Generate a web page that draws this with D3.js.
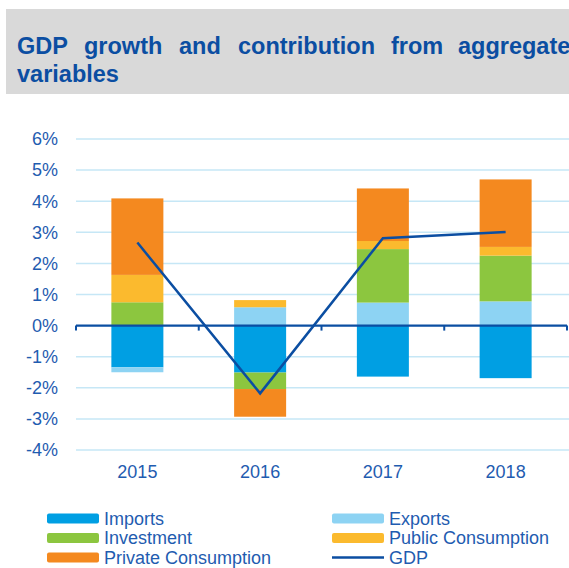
<!DOCTYPE html>
<html><head><meta charset="utf-8">
<script src="https://cdn.jsdelivr.net/npm/d3@7"></script>
<style>body{margin:0;background:#fff}svg{display:block;font-family:"Liberation Sans",Arial,sans-serif}</style>
</head><body>
<svg id="c" width="569" height="568"></svg>
<script>
const categories = ["2015","2016","2017","2018"];
const imports = [-1.34,-1.51,-1.64,-1.69];
const exports_ = [-0.16,0.59,0.74,0.78];
const investment = [0.75,-0.53,1.72,1.47];
const publicCons = [0.88,0.23,0.26,0.28];
const privateCons = [2.46,-0.89,1.69,2.17];
const gdp = [2.67,-2.18,2.81,3.01];
const yTicks = [-4,-3,-2,-1,0,1,2,3,4,5,6];
const titleWords = ["GDP","growth","and","contribution","from","aggregate"];
const titleLine2 = "variables";

const series = [
  {name:"Imports", values:imports, color:"#009FE3"},
  {name:"Exports", values:exports_, color:"#8DD3F3"},
  {name:"Investment", values:investment, color:"#8CC63F"},
  {name:"Public Consumption", values:publicCons, color:"#FBBA2E"},
  {name:"Private Consumption", values:privateCons, color:"#F4891F"}
];
const gdpColor = "#0B4EA2", textColor = "#1F5CB0";

const svg = d3.select("#c");
// title box
svg.append("rect").attr("x",6).attr("y",9).attr("width",563).attr("height",85).attr("fill","#D9D9D9");
const wordX = [17,84,179,238,391,458];
titleWords.forEach((w,i)=>svg.append("text").attr("x",wordX[i]).attr("y",54)
  .attr("font-size",23.5).attr("font-weight","bold").attr("fill",gdpColor).text(w));
svg.append("text").attr("x",17).attr("y",82).attr("font-size",23.5).attr("font-weight","bold")
  .attr("fill",gdpColor).text(titleLine2);

const x0 = 76, x1 = 567;
const x = d3.scaleBand().domain(categories).range([x0,x1]).paddingInner(0).paddingOuter(0);
const y = d3.scaleLinear().domain([-4,6]).range([450,139]);
const barW = 52;

// gridlines
svg.append("g").selectAll("line").data(yTicks.filter(t=>t!==0)).join("line")
  .attr("x1",x0).attr("x2",569).attr("y1",d=>y(d)).attr("y2",d=>y(d))
  .attr("stroke","#C6E7F6").attr("stroke-width",1.5);

// y labels
svg.append("g").selectAll("text").data(yTicks).join("text")
  .attr("x",58).attr("y",d=>y(d)).attr("dy","0.35em").attr("text-anchor","end")
  .attr("font-size",18).attr("fill",textColor).text(d=>d+"%");

// stacked bars
categories.forEach((c,i)=>{
  let pos=0, neg=0;
  series.forEach(s=>{
    const v=s.values[i];
    let a,b;
    if(v>=0){a=pos;b=pos+v;pos=b;} else {a=neg;b=neg+v;neg=b;}
    svg.append("rect").attr("x",x(c)+x.bandwidth()/2-barW/2).attr("width",barW)
      .attr("y",y(Math.max(a,b))).attr("height",Math.abs(y(a)-y(b)))
      .attr("fill",s.color);
  });
});

// zero axis with ticks
svg.append("line").attr("x1",x0).attr("x2",x1).attr("y1",y(0)).attr("y2",y(0))
  .attr("stroke",gdpColor).attr("stroke-width",2.2);
const bounds = categories.map(c=>x(c)).concat([x1]);
svg.append("g").selectAll("line").data(bounds).join("line")
  .attr("x1",d=>d).attr("x2",d=>d).attr("y1",y(0)).attr("y2",y(0)+5)
  .attr("stroke",gdpColor).attr("stroke-width",2);

// x labels
svg.append("g").selectAll("text").data(categories).join("text")
  .attr("x",d=>x(d)+x.bandwidth()/2).attr("y",472).attr("dy","0.35em").attr("text-anchor","middle")
  .attr("font-size",18).attr("fill",textColor).text(d=>d);

// GDP line
const line = d3.line().x((d,i)=>x(categories[i])+x.bandwidth()/2).y(d=>y(d));
svg.append("path").datum(gdp).attr("d",line).attr("fill","none")
  .attr("stroke",gdpColor).attr("stroke-width",2.5);

// legend
const legend = [
  {name:"Imports",color:"#009FE3",col:0,row:0},
  {name:"Exports",color:"#8DD3F3",col:1,row:0},
  {name:"Investment",color:"#8CC63F",col:0,row:1},
  {name:"Public Consumption",color:"#FBBA2E",col:1,row:1},
  {name:"Private Consumption",color:"#F4891F",col:0,row:2},
  {name:"GDP",color:gdpColor,col:1,row:2,line:true}
];
const colX=[47,332], rowY=[518.5,538,557.5];
legend.forEach(l=>{
  const lx=colX[l.col], ly=rowY[l.row];
  if(l.line){
    svg.append("line").attr("x1",lx).attr("x2",lx+52).attr("y1",ly).attr("y2",ly)
      .attr("stroke",l.color).attr("stroke-width",2.5);
  } else {
    svg.append("rect").attr("x",lx).attr("y",ly-5).attr("width",52).attr("height",10)
      .attr("rx",2).attr("fill",l.color);
  }
  svg.append("text").attr("x",lx+57).attr("y",ly).attr("dy","0.35em")
    .attr("font-size",18).attr("fill",textColor).text(l.name);
});
</script>
</body></html>
